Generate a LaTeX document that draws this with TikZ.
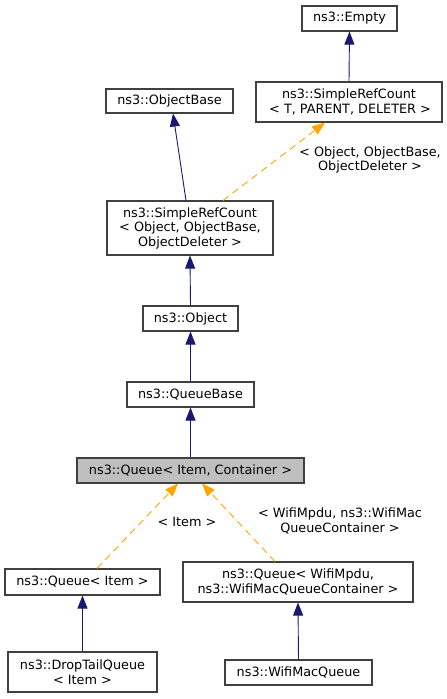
\documentclass[tikz,border=0pt]{standalone}
\usepackage{fontspec}
\setmainfont{DejaVu Sans}
\usetikzlibrary{arrows.meta,calc}
\definecolor{navyedge}{HTML}{191970}
\definecolor{orangeedge}{HTML}{FFA500}
\definecolor{boxline}{HTML}{404040}
\definecolor{hilite}{HTML}{BFBFBF}
\begin{document}
\begin{tikzpicture}[x=1pt,y=-1pt,
  cls/.style={draw=boxline,line width=1.1pt,fill=white,inner sep=0pt,align=center,
    font=\fontsize{12.8}{14.5}\selectfont},
  inh/.style={draw=navyedge,line width=0.9pt,-{Triangle[length=13pt,width=10pt]}},
  tmpl/.style={draw=orangeedge,line width=0.9pt,dash pattern=on 7pt off 5pt,
    -{Triangle[length=13pt,width=10pt]}},
  lbl/.style={align=center,inner sep=0pt,font=\fontsize{12.8}{14.5}\selectfont}]
\useasboundingbox (0,0) rectangle (447,699);
\node[cls,minimum width=95pt,minimum height=25pt] (empty) at (349.5,18.5) {ns3::Empty};
\node[cls,minimum width=186pt,minimum height=40pt] (srcT) at (349,102) {ns3::SimpleRefCount\\\,< T, PARENT, DELETER >};
\node[cls,minimum width=127pt,minimum height=24pt] (objbase) at (169.5,101) {ns3::ObjectBase};
\node[cls,minimum width=166pt,minimum height=54pt] (srcObj) at (190,228) {ns3::SimpleRefCount\\< Object, ObjectBase,\\ObjectDeleter >};
\node[cls,minimum width=95pt,minimum height=25pt] (object) at (190.5,318.5) {ns3::Object};
\node[cls,minimum width=127pt,minimum height=25pt] (queuebase) at (190.5,394.5) {ns3::QueueBase};
\node[cls,fill=hilite,minimum width=227pt,minimum height=25pt] (queue) at (190.5,470.5) {ns3::Queue< Item, Container >};
\node[cls,minimum width=155pt,minimum height=26pt] (queueItem) at (82.5,582) {ns3::Queue< Item >};
\node[cls,minimum width=230pt,minimum height=40pt] (queueWifi) at (298,582) {ns3::Queue< WifiMpdu,\\ns3::WifiMacQueueContainer >};
\node[cls,minimum width=149pt,minimum height=40pt] (droptail) at (82.5,672) {ns3::DropTailQueue\\< Item >};
\node[cls,minimum width=147pt,minimum height=25pt] (wifimac) at (298.5,672.5) {ns3::WifiMacQueue};

\draw[inh] (srcT.north) -- (empty.south);
\draw[inh] ([xshift=-4pt]srcObj.north) -- ([xshift=3.5pt]objbase.south);
\draw[tmpl] ([xshift=33pt]srcObj.north) -- ([xshift=-24pt]srcT.south);
\node[lbl] (l1) at (370,160) {< Object, ObjectBase,\\ObjectDeleter >};
\draw[inh] (object.north) -- (srcObj.south);
\draw[inh] (queuebase.north) -- (object.south);
\draw[inh] (queue.north) -- (queuebase.south);
\draw[tmpl] ([xshift=14.5pt]queueItem.north) -- ([xshift=-12.5pt]queue.south);
\node[lbl] (l2) at (187,522) {< Item >};
\draw[tmpl] ([xshift=-23pt]queueWifi.north) -- ([xshift=11.5pt]queue.south);
\node[lbl] (l3) at (340,521) {< WifiMpdu, ns3::WifiMac\\QueueContainer >};
\draw[inh] (droptail.north) -- (queueItem.south);
\draw[inh] (wifimac.north) -- (queueWifi.south);
\end{tikzpicture}
\end{document}
